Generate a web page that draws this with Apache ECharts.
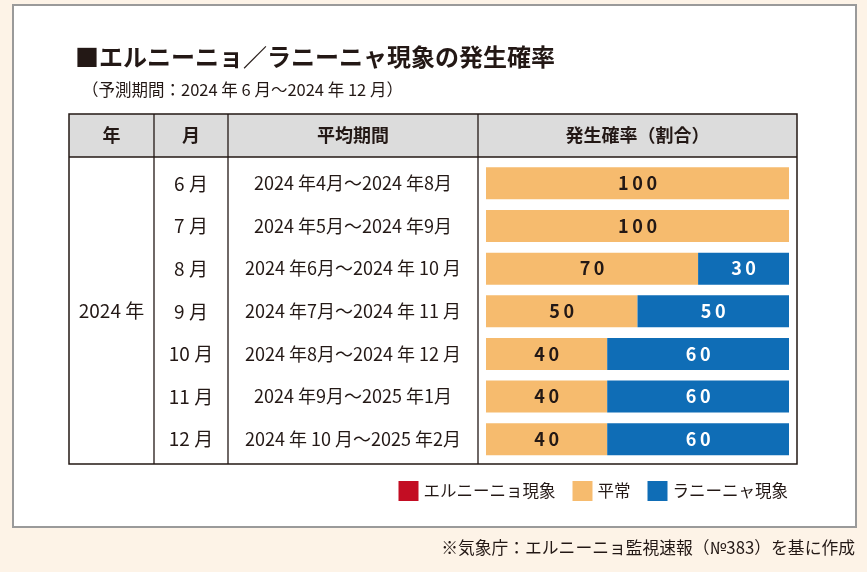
<!DOCTYPE html>
<html><head><meta charset="utf-8">
<script src="https://cdn.jsdelivr.net/npm/echarts@6/dist/echarts.min.js"></script>
<style>html,body{margin:0;padding:0;background:#fdf3e7;}#c{width:867px;height:572px;}</style>
</head><body><div id="c"></div>
<script>
const months = ['6 月','7 月','8 月','9 月','10 月','11 月','12 月'];
const periods = ['2024 年4月～2024 年8月','2024 年5月～2024 年9月','2024 年6月～2024 年 10 月','2024 年7月～2024 年 11 月','2024 年8月～2024 年 12 月','2024 年9月～2025 年1月','2024 年 10 月～2025 年2月'];
const elNino = [0,0,0,0,0,0,0];
const normal = [100,100,70,50,40,40,40];
const laNina = [0,0,30,50,60,60,60];
const seriesNames = ['エルニーニョ現象','平常','ラニーニャ現象'];
const yearLabel = '2024 年';
const headers = ['年','月','平均期間','発生確率（割合）'];

const FONT = '"Noto Sans CJK JP", "Noto Sans", sans-serif';
const TXT = '#231815';
const chart = echarts.init(document.getElementById('c'), null, {renderer:'canvas'});

function spaced(v){ return String(v).split('').join('\u2009'); }

const cols = [69,154,228,478,797];
const tTop = 114, tHead = 157, tBot = 464;
const g = [];
g.push({type:'rect', shape:{x:13,y:5,width:843,height:522}, style:{fill:'#fff', stroke:'#9a9a9a', lineWidth:2}, z:-10});
g.push({type:'rect', shape:{x:cols[0],y:tTop,width:cols[4]-cols[0],height:tHead-tTop}, style:{fill:'#dcdcdc'}, z:-5});
g.push({type:'rect', shape:{x:cols[0],y:tTop,width:cols[4]-cols[0],height:tBot-tTop}, style:{fill:'none', stroke:'#231815', lineWidth:1.5}, z:5});
g.push({type:'line', shape:{x1:cols[0],y1:tHead,x2:cols[4],y2:tHead}, style:{stroke:'#231815', lineWidth:1.5}, z:5});
for (let i=1;i<4;i++) g.push({type:'line', shape:{x1:cols[i],y1:tTop,x2:cols[i],y2:tBot}, style:{stroke:'#231815', lineWidth:1.3}, z:5});
headers.forEach((h,i)=>{
  g.push({type:'text', x:(cols[i]+cols[i+1])/2, y:(tTop+tHead)/2, style:{text:h, fill:TXT, font:'bold 18px '+FONT, textAlign:'center', textVerticalAlign:'middle'}, z:6});
});
g.push({type:'text', x:(cols[0]+cols[1])/2, y:311, style:{text:yearLabel, fill:TXT, font:'19px '+FONT, textAlign:'center', textVerticalAlign:'middle'}, z:6});
g.push({type:'text', x:82, y:90, style:{text:'（予測期間：2024 年 6 月～2024 年 12 月）', fill:TXT, font:'16.5px '+FONT, textAlign:'left', textVerticalAlign:'middle'}});
g.push({type:'text', x:855, y:548, style:{text:'※気象庁：エルニーニョ監視速報（№383）を基に作成', fill:TXT, font:'16.8px '+FONT, textAlign:'right', textVerticalAlign:'middle'}});

chart.setOption({
  animation:false,
  backgroundColor:'#fdf3e7',
  textStyle:{fontFamily:FONT},
  title:{text:'■エルニーニョ／ラニーニャ現象の発生確率', left:70, top:40, textStyle:{fontSize:24, fontWeight:'bold', color:TXT, fontFamily:FONT}},
  legend:{data:seriesNames, right:74, top:476, itemWidth:20, itemHeight:20, itemGap:17, icon:'rect',
    textStyle:{fontSize:16.5, color:TXT, fontFamily:FONT}},
  grid:{left:486, right:78, top:162, bottom:111.4},
  xAxis:{type:'value', min:0, max:100, show:false},
  yAxis:{type:'category', data:months, inverse:true, axisLine:{show:false}, axisTick:{show:false},
    axisLabel:{margin:8, formatter:(v,i)=>'{m|'+v+'}{p|'+periods[i]+'}',
      rich:{m:{width:74, align:'center', fontSize:19, color:TXT, fontFamily:FONT},
            p:{width:250, align:'center', fontSize:18, color:TXT, fontFamily:FONT}}}},
  series:[
    {name:seriesNames[0], type:'bar', stack:'a', data:elNino, barWidth:32, itemStyle:{color:'#c30d23'}, label:{show:false}},
    {name:seriesNames[1], type:'bar', stack:'a', data:normal, barWidth:32, itemStyle:{color:'#f6bb6e'},
      label:{show:true, position:'inside', formatter:p=>p.value>0?spaced(p.value):'', color:TXT, fontSize:18, fontWeight:'bold', fontFamily:FONT}},
    {name:seriesNames[2], type:'bar', stack:'a', data:laNina, barWidth:32, itemStyle:{color:'#0f6db6'},
      label:{show:true, position:'inside', formatter:p=>p.value>0?spaced(p.value):'', color:'#fff', fontSize:18, fontWeight:'bold', fontFamily:FONT}}
  ],
  graphic:g
});
</script></body></html>
